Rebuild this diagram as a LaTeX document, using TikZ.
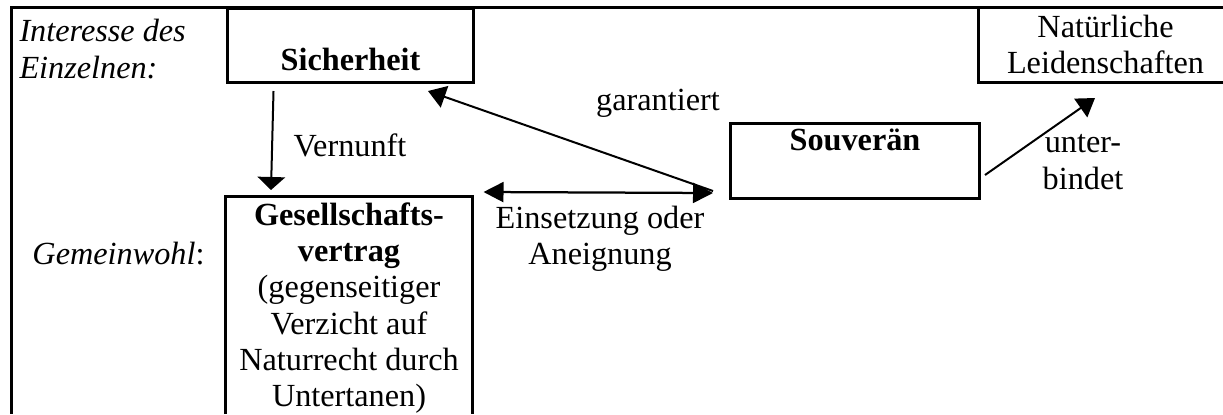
\documentclass[tikz,border=0pt]{standalone}
\usepackage{fontspec}
\setmainfont{Liberation Serif}
\usetikzlibrary{arrows.meta}
\begin{document}
\begin{tikzpicture}[x=0.4pt,y=-0.4pt,
  every node/.style={font=\fontsize{12.9}{14.5}\selectfont, inner sep=0pt},
  frameline/.style={line width=1.2pt},
  boxnode/.style={draw, line width=1.2pt, align=center},
  conn/.style={line width=0.8pt, -{Triangle[length=7pt,width=9pt]}},
  conndown/.style={line width=0.8pt, -{Triangle[length=5.2pt,width=11pt]}},
  connboth/.style={line width=0.9pt, {Triangle[length=8pt,width=8pt]}-{Triangle[length=8pt,width=8pt]}},
  lbl/.style={align=center}
]
\useasboundingbox (0,0) rectangle (1223,414);
% frame
\coordinate (TL) at (11,7);
\coordinate (TR) at (1223,7);
\coordinate (BL) at (11,414);
\draw[frameline] (TR) -- (TL) -- (BL);

% left labels
\node[anchor=west, align=left] (intr) at (19,49) {\itshape Interesse des\\\itshape Einzelnen:};
\node[anchor=west] (gem) at (32,254) {\textit{Gemeinwohl}:};

% boxes
\node[boxnode, anchor=north west, minimum width=98.4pt, minimum height=29.6pt] (sich) at (226,7)
  {\strut\\\textbf{Sicherheit}\strut};
\node[boxnode, anchor=north west, minimum width=99.6pt, minimum height=30pt] (souv) at (729,122)
  {\textbf{Souverän}\strut\\\strut};
\node[align=center, anchor=north west, minimum width=101.6pt, minimum height=29.6pt] (nat) at (978,7)
  {Natürliche\\Leidenschaften};
\draw[frameline] (nat.north west) -- (nat.south west) -- (nat.south west -| TR);

\node[align=center, anchor=north, minimum width=98.4pt, inner ysep=2.5pt] (ges) at (349,196)
  {\textbf{Gesellschafts-}\\\textbf{vertrag}\\(gegenseitiger\\Verzicht auf\\Naturrecht durch\\Untertanen)};
\draw[frameline] (ges.west |- BL) -- (ges.north west) -- (ges.north east) -- (ges.east |- BL);

% connector end points
\coordinate (vA) at ([xshift=-30.8pt,yshift=-2.8pt]sich.south);
\coordinate (vB) at ([xshift=-31.2pt,yshift=2.4pt]ges.north);
\coordinate (gA) at ([xshift=-6.4pt,yshift=3.6pt]souv.south west);
\coordinate (gB) at ([xshift=-18.8pt,yshift=-2.8pt]sich.south east);
\coordinate (dA) at ([xshift=4.4pt,yshift=1.6pt]ges.north east);
\coordinate (dB) at ([xshift=-6.4pt,yshift=2.8pt]souv.south west);
\coordinate (uA) at ([xshift=1.6pt,yshift=10pt]souv.south east);
\coordinate (uB) at ([xshift=46.8pt,yshift=-6.4pt]nat.south west);

% connectors
\draw[conndown] (vA) -- (vB);
\draw[conn] (gA) -- (gB);
\draw[connboth] (dA) -- (dB);
\draw[conn] (uA) -- (uB);

% labels
\node[anchor=west] (vern) at (293,145) {Vernunft};
\node (gar) at (658,103) {garantiert};
\node[lbl] (eins) at (600,239) {Einsetzung oder\\Aneignung};
\node[lbl] (unt) at (1083,162) {unter-\\bindet};
\end{tikzpicture}
\end{document}
